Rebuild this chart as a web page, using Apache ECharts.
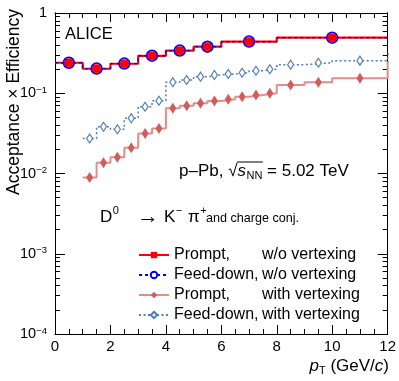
<!DOCTYPE html>
<html>
<head>
<meta charset="utf-8">
<script src="https://cdn.jsdelivr.net/npm/echarts@6/dist/echarts.min.js"></script>
<style>
html, body { margin: 0; padding: 0; background: #fff; }
#chart { width: 399px; height: 381px; }
</style>
</head>
<body>
<div id="chart"></div>
<script>
// bin edges in pT (GeV/c)
var edgesNoVtx = [0, 1, 2, 3, 4, 5, 6, 8, 12];
var edgesVtx = [1, 1.5, 2, 2.5, 3, 3.5, 4, 4.5, 5, 5.5, 6, 6.5, 7, 7.5, 8, 9, 10, 12, 16];

// acceptance x efficiency per bin
var promptNoVtx = [0.240, 0.202, 0.233, 0.293, 0.339, 0.380, 0.439, 0.492];
var feedNoVtx = [0.240, 0.203, 0.234, 0.294, 0.340, 0.381, 0.440, 0.493];
var promptVtx = [0.0089, 0.0136, 0.0159, 0.0210, 0.0315, 0.0364, 0.0649, 0.0700, 0.0750,
    0.0800, 0.0841, 0.0906, 0.0951, 0.0998, 0.127, 0.137, 0.154, 0.245];
var feedVtx = [0.0273, 0.0383, 0.0356, 0.0487, 0.0680, 0.0807, 0.137, 0.146, 0.161,
    0.169, 0.174, 0.180, 0.191, 0.199, 0.227, 0.240, 0.255, 0.308];

// axis ticks
var xTicks = [0, 2, 4, 6, 8, 10, 12];
var yTicks = [1e-4, 1e-3, 1e-2, 1e-1, 1];

var FONT = 'Liberation Sans';
var X_MAX = 12;

// histogram outline: one point per bin low edge plus the last high edge
function stepData(edges, vals) {
    var d = [];
    for (var i = 0; i < vals.length; i++) d.push([edges[i], vals[i]]);
    d.push([edges[edges.length - 1], vals[vals.length - 1]]);
    return d;
}
// markers at bin centres (inside the x range)
function centerData(edges, vals) {
    var d = [];
    for (var i = 0; i < vals.length; i++) {
        var c = (edges[i] + edges[i + 1]) / 2;
        if (c < X_MAX) d.push([c, vals[i]]);
    }
    return d;
}

var yMinor = [];
for (var e = -4; e < 0; e++) {
    for (var k = 2; k <= 9; k++) yMinor.push(k * Math.pow(10, e));
}

function yLabel(v) {
    var p = Math.round(Math.log10(v));
    if (p === 0) return '1';
    return '10{s|\u2212' + (-p) + '}';
}

// text width, for laying out the latex-like labels piece by piece
var ctx = document.createElement('canvas').getContext('2d');
function tw(s, size, italic) {
    ctx.font = (italic ? 'italic ' : '') + size + 'px "' + FONT + '"';
    return ctx.measureText(s).width;
}
function txt(x, y, text, size, extra) {
    var st = { text: text, fill: '#000', fontSize: size, fontFamily: FONT, textVerticalAlign: 'middle' };
    for (var key in extra) st[key] = extra[key];
    return { type: 'text', x: x, y: y, style: st };
}

var myChart = echarts.init(document.getElementById('chart'));

function xAxisDef(pos, showLabel) {
    return {
        type: 'value', position: pos, min: 0, max: X_MAX, interval: 2,
        axisLine: { show: true, onZero: false, lineStyle: { color: '#000', width: 1 } },
        axisTick: { show: true, inside: true, length: 9, lineStyle: { color: '#000' } },
        minorTick: { show: true, splitNumber: 4, length: 5, lineStyle: { color: '#000' } },
        axisLabel: { show: showLabel, color: '#000', fontSize: 15, fontFamily: FONT, margin: 5 },
        splitLine: { show: false }
    };
}
function yAxisDef(pos, major, showLabel) {
    return {
        type: 'log', logBase: 10, position: pos, min: 1e-4, max: 1,
        axisLine: { show: true, onZero: false, lineStyle: { color: '#000', width: 1 } },
        axisTick: { show: true, inside: true, length: major ? 10 : 5,
            customValues: major ? yTicks : yMinor, lineStyle: { color: '#000' } },
        axisLabel: {
            show: showLabel, customValues: yTicks, formatter: yLabel,
            color: '#000', fontSize: 14.5, fontFamily: FONT, margin: 8, lineHeight: 16,
            rich: { s: { fontSize: 9.5, fontFamily: FONT, color: '#000', verticalAlign: 'top', lineHeight: 10 } }
        },
        splitLine: { show: false }
    };
}

// p-Pb, sqrt(s_NN) = 5.02 TeV
var g = [];
var fs = 17, ly = 171;
var x0 = 179;
var x1 = x0 + tw('p\u2013Pb, ', fs);
var x2 = x1 + tw('\u221a', fs);
var x3 = x2 + tw('s', fs, true) + 0.5;
var x4 = x3 + tw('NN', 11);
g.push(txt(x0, ly, 'p\u2013Pb, ', fs));
g.push(txt(x1, ly + 0.5, '\u221a', fs));
g.push(txt(x2, ly, 's', fs, { fontStyle: 'italic' }));
g.push(txt(x3, ly + 4.5, 'NN', 11));
g.push({ type: 'line', shape: { x1: x2 - 0.5, y1: 162, x2: x4 + 0.5, y2: 162 }, style: { stroke: '#000', lineWidth: 1 } });
g.push(txt(x4, ly, ' = 5.02 TeV', fs));

// D0 -> K- pi+ and charge conj.
var dy = 217;
g.push(txt(100, dy, 'D', fs));
g.push(txt(100 + tw('D', fs) + 0.5, dy - 6, '0', 11));
g.push(txt(148, dy, '\u2192', 22, { textAlign: 'center' }));
g.push(txt(164, dy, 'K', fs));
g.push(txt(164 + tw('K', fs) + 0.5, dy - 6, '\u2212', 11));
g.push(txt(188, dy, '\u03c0', fs));
g.push(txt(188 + tw('\u03c0', fs) + 0.5, dy - 6, '+', 11));
g.push(txt(206, dy + 2, 'and charge conj.', 12.6));

g.push(txt(65, 34, 'ALICE', 16.5));

// axis titles
g.push({ type: 'text', x: 14, y: 102, rotation: Math.PI / 2,
    style: { text: 'Acceptance \u00d7 Efficiency', fill: '#000', fontSize: 17.5, fontFamily: FONT,
             textAlign: 'center', textVerticalAlign: 'middle' } });
g.push(txt(389, 366, '{i|p}{sub|T}{n| (GeV/}{i|c}{n|)}', 17, {
    textAlign: 'right',
    rich: {
        n: { fontSize: 17, fontFamily: FONT, fill: '#000', lineHeight: 20 },
        i: { fontSize: 17, fontFamily: FONT, fontStyle: 'italic', fill: '#000', lineHeight: 20 },
        sub: { fontSize: 11, fontFamily: FONT, fill: '#000', verticalAlign: 'bottom', lineHeight: 12 }
    }
}));

var option = {
    animation: false,
    backgroundColor: '#fff',
    grid: { left: 55, right: 11, top: 13, bottom: 47 },
    xAxis: [xAxisDef('bottom', true), xAxisDef('top', false)],
    yAxis: [yAxisDef('left', true, true), yAxisDef('left', false, false),
            yAxisDef('right', true, false), yAxisDef('right', false, false)],
    legend: {
        orient: 'vertical', left: 138, top: 247, padding: 0,
        itemWidth: 30, itemHeight: 8, itemGap: 4,
        data: ['Prompt, w/o vertexing', 'Feed-down, w/o vertexing', 'Prompt, with vertexing', 'Feed-down, with vertexing'],
        formatter: function (name) {
            var p = name.split(', ');
            return '{a|' + p[0] + ',}{b|' + p[1] + '}';
        },
        textStyle: {
            color: '#000', fontSize: 16, fontFamily: FONT, lineHeight: 15,
            rich: {
                a: { width: 88, fontSize: 16, fontFamily: FONT, color: '#000', lineHeight: 15 },
                b: { fontSize: 16, fontFamily: FONT, color: '#000', lineHeight: 15 }
            }
        }
    },
    graphic: g,
    series: [
        {
            name: 'Prompt, with vertexing', type: 'line', step: 'end',
            data: stepData(edgesVtx, promptVtx),
            symbol: 'diamond', showSymbol: false,
            lineStyle: { color: '#e38c8c', width: 2 },
            itemStyle: { color: '#d05c5c' }, z: 2
        },
        {
            name: 'Feed-down, with vertexing', type: 'line', step: 'end',
            data: stepData(edgesVtx, feedVtx),
            symbol: 'emptyDiamond', showSymbol: false,
            lineStyle: { color: '#4f7db8', width: 1.5, type: [2, 2.5] },
            itemStyle: { color: '#4f7db8' }, z: 2
        },
        {
            name: 'Prompt, w/o vertexing', type: 'line', step: 'end',
            data: stepData(edgesNoVtx, promptNoVtx),
            symbol: 'rect', showSymbol: false,
            lineStyle: { color: '#ff0000', width: 2.2 },
            itemStyle: { color: '#ff0000' }, z: 3
        },
        {
            name: 'Feed-down, w/o vertexing', type: 'line', step: 'end',
            data: stepData(edgesNoVtx, feedNoVtx),
            symbol: 'emptyCircle', showSymbol: false,
            lineStyle: { color: '#0000ff', width: 1.3, type: [3, 3] },
            itemStyle: { color: '#0000ff' }, z: 4
        },
        {
            type: 'scatter', data: centerData(edgesVtx, promptVtx),
            symbol: 'diamond', symbolSize: [7, 11],
            itemStyle: { color: '#d05c5c', opacity: 1 }, z: 5
        },
        {
            type: 'scatter', data: centerData(edgesVtx, feedVtx),
            symbol: 'diamond', symbolSize: [6, 9],
            itemStyle: { color: '#fff', borderColor: '#4f7db8', borderWidth: 1.2, opacity: 1 }, z: 5
        },
        {
            type: 'scatter', data: centerData(edgesNoVtx, promptNoVtx),
            symbol: 'rect', symbolSize: 8,
            itemStyle: { color: '#ff0000', opacity: 1 }, z: 6
        },
        {
            type: 'scatter', data: centerData(edgesNoVtx, feedNoVtx),
            symbol: 'circle', symbolSize: 11,
            itemStyle: { color: 'rgba(255,0,0,0.6)', borderColor: '#0000ff', borderWidth: 1.5, opacity: 1 }, z: 7
        }
    ]
};
myChart.setOption(option);
</script>
</body>
</html>
